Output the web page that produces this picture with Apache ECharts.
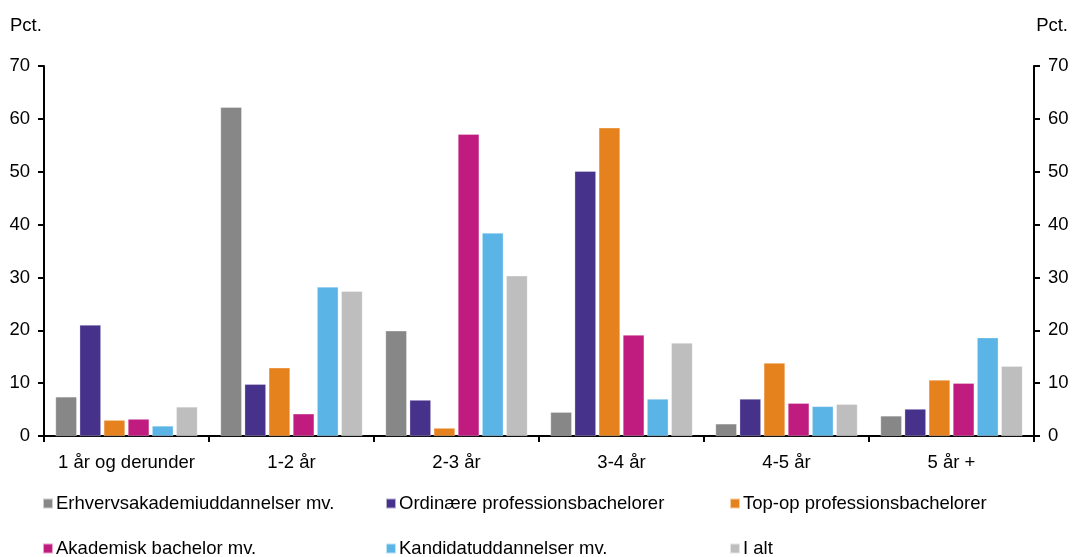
<!DOCTYPE html>
<html><head><meta charset="utf-8">
<script src="https://cdn.jsdelivr.net/npm/echarts@6/dist/echarts.min.js"></script>
<style>html,body{margin:0;padding:0;background:#fff}#c{width:1072px;height:557px}</style>
</head><body><div id="c"></div>
<script>
const categories = ['1 år og derunder','1-2 år','2-3 år','3-4 år','4-5 år','5 år +'];
const seriesNames = ['Erhvervsakademiuddannelser mv.','Ordinære professionsbachelorer','Top-op professionsbachelorer','Akademisk bachelor mv.','Kandidatuddannelser mv.','I alt'];
const erhverv = [7.4, 62.2, 19.9, 4.5, 2.3, 3.8];
const ordinaere = [21.0, 9.8, 6.8, 50.1, 7.0, 5.1];
const topop = [3.0, 12.9, 1.5, 58.3, 13.8, 10.6];
const akademisk = [3.2, 4.2, 57.1, 19.1, 6.2, 10.0];
const kandidat = [1.9, 28.2, 38.4, 7.0, 5.6, 18.6];
const ialt = [5.5, 27.4, 30.3, 17.6, 6.0, 13.2];
const yTicks = [0,10,20,30,40,50,60,70];
const colors = ['#878787','#46318B','#E6821E','#C01C80','#5AB4E6','#BEBEBE'];
const values = [erhverv, ordinaere, topop, akademisk, kandidat, ialt];

const font = 'Liberation Sans, Arial, sans-serif';
const FS = 18.5;
const legendPos = [[42,494],[385,494],[729,494],[42,539],[385,539],[729,539]];
const legends = seriesNames.map((n,i)=>({
  data:[n], left:legendPos[i][0], top:legendPos[i][1], itemWidth:10, itemHeight:10, itemGap:0,
  icon:'rect', padding:0, textStyle:{fontFamily:font,fontSize:FS,color:'#000',padding:[0,0,0,-2]}, selectedMode:false
}));

const yAxisCommon = {
  type:'value', min:0, max:70, interval:10,
  axisLine:{show:true,lineStyle:{color:'#000',width:2}},
  axisTick:{show:true,length:6,lineStyle:{color:'#000',width:2}},
  splitLine:{show:false},
  axisLabel:{fontFamily:font,fontSize:FS,color:'#000',margin:14}
};

const chart = echarts.init(document.getElementById('c'));
chart.setOption({
  animation:false,
  color:colors,
  legend:legends,
  graphic:[
    {type:'text',left:10,top:16,style:{text:'Pct.',font:FS+'px '+font,fill:'#000'}},
    {type:'text',right:4,top:16,style:{text:'Pct.',font:FS+'px '+font,fill:'#000'}}
  ],
  grid:{left:44,right:38,top:66,bottom:121,containLabel:false},
  xAxis:{type:'category',data:categories,
    axisLine:{lineStyle:{color:'#000',width:2}},
    axisTick:{show:true,interval:0,alignWithLabel:false,length:6,lineStyle:{color:'#000',width:2}},
    axisLabel:{interval:0,hideOverlap:false,fontFamily:font,fontSize:FS,color:'#000',margin:17}},
  yAxis:[
    Object.assign({},yAxisCommon,{position:'left'}),
    Object.assign({},yAxisCommon,{position:'right'})
  ],
  series:values.map((v,i)=>({
    name:seriesNames[i], type:'bar', data:v, yAxisIndex:0,
    barGap:'14%', barCategoryGap:'14%',
    itemStyle:{color:colors[i],borderColor:'rgba(255,255,255,0.6)',borderWidth:0.5}
  }))
});
</script></body></html>
